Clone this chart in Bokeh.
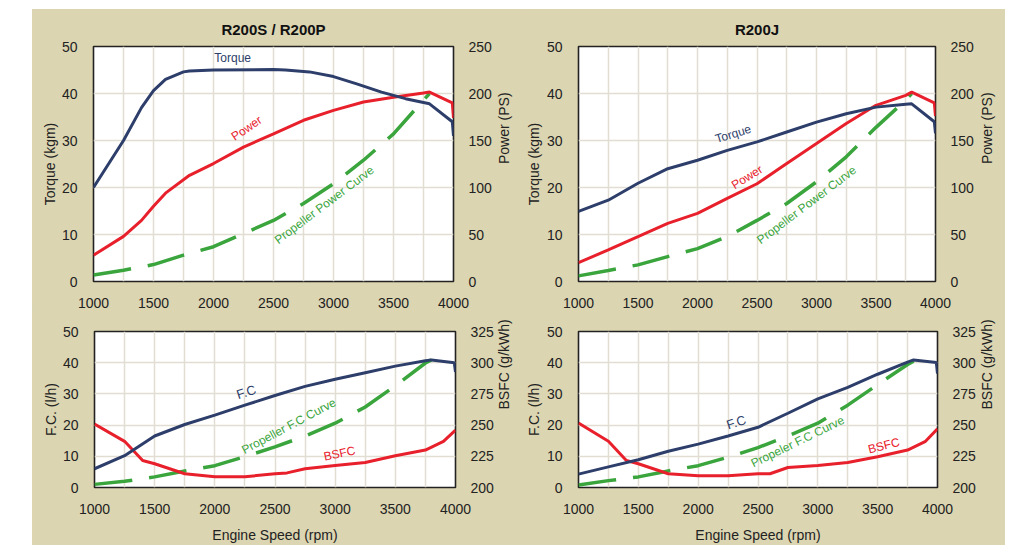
from bokeh.plotting import figure
from bokeh.models import Range1d, LinearAxis, FixedTicker, Spacer, Title
from bokeh.layouts import row, column
from bokeh.embed import file_html
from bokeh.resources import INLINE
from bokeh.core.properties import value
import math

# ---------------- data ----------------
rpm_ticks = [1000, 1500, 2000, 2500, 3000, 3500, 4000]
rpm_minor = [1250, 1750, 2250, 2750, 3250, 3750]

# R200S / R200P  (top-left)
s_rpm = [1000, 1250, 1400, 1500, 1600, 1750, 1800, 2000, 2500, 2600, 2800, 3000, 3200, 3400, 3600, 3800, 3990, 4000]
s_torque = [20.0, 30.0, 37.0, 40.6, 43.0, 44.6, 44.8, 45.0, 45.1, 45.0, 44.6, 43.6, 42.0, 40.3, 38.9, 37.8, 34.0, 31.0]
s_pw_rpm = [1000, 1250, 1400, 1500, 1600, 1800, 2000, 2250, 2500, 2750, 3000, 3250, 3500, 3750, 3800, 3990, 4000]
s_power = [28, 48, 65, 80, 94, 113, 125.5, 143, 157, 171.5, 182, 191, 196, 200.5, 201.5, 190, 174]
prop_rpm = [1000, 1250, 1500, 1750, 2000, 2250, 2500, 2750, 3000, 3250, 3500, 3750, 3800]
s_prop_power = [7, 12, 18, 28, 37, 51, 65, 83, 104, 129, 157, 193, 200]

# R200J (top-right)
j_rpm = [1000, 1250, 1500, 1750, 2000, 2250, 2500, 2750, 3000, 3250, 3500, 3750, 3800, 3990, 4000]
j_torque = [14.9, 17.3, 20.9, 24.0, 25.8, 27.9, 29.7, 31.8, 33.9, 35.7, 37.1, 37.7, 37.8, 34.0, 31.5]
j_power = [20, 33.6, 47.7, 61.9, 72.5, 88.4, 104, 125.5, 146.7, 168, 187.4, 198, 201.5, 190, 176]
j_prop_power = [6, 11.7, 17.7, 26.5, 35, 47.7, 65, 83, 106, 132.6, 164, 193, 200]

# Fuel consumption, R200S / R200P (bottom-left)
fc_rpm = [1000, 1250, 1500, 1750, 2000, 2250, 2500, 2750, 3000, 3250, 3500, 3750, 3800, 3990, 4000]
s_fc = [6.0, 10.2, 16.5, 20.2, 23.2, 26.4, 29.5, 32.4, 34.7, 36.8, 38.9, 40.6, 40.9, 40.0, 37.0]
bsfc_rpm = [1000, 1250, 1400, 1500, 1750, 2000, 2250, 2500, 2600, 2750, 3000, 3250, 3500, 3750, 3900, 4000]
s_bsfc = [250.8, 237, 221.6, 219, 211, 208.6, 208.6, 211, 211.7, 215, 217.7, 220, 225.5, 230, 237, 246]
s_prop_fc = [1.0, 2.0, 3.4, 5.3, 7.0, 9.9, 13.0, 16.5, 20.6, 25.8, 32.6, 39.9, 40.9]

# Fuel consumption, R200J (bottom-right)
j_fc = [4.3, 6.6, 8.9, 11.6, 13.9, 16.5, 19.3, 23.8, 28.4, 32.1, 36.3, 40.2, 40.9, 40.1, 36.5]
j_bsfc = [251.6, 237, 221.6, 219, 211, 209.4, 209.4, 211, 211, 216, 217.7, 220, 224.7, 230, 237, 247]
j_prop_fc = [0.8, 2.2, 3.4, 5.3, 7.0, 9.7, 12.8, 16.5, 20.6, 26.4, 33.0, 39.4, 40.5]

# in-plot labels: text, x (rpm), y (left-axis units), angle (deg)
tl_labels = [("Torque", 2160, 47.5, 0), ("Power", 2276, 32.6, 34), ("Propeller Power Curve", 2923, 16.3, 37)]
tr_labels = [("Torque", 2300, 31.4, 17), ("Power", 2417, 22.2, 32), ("Propeller Power Curve", 2917, 16.3, 37)]
bl_labels = [("F.C", 2261, 30.6, 18), ("Propeller F.C Curve", 2615, 19.7, 28), ("BSFC", 3036, 10.9, 12)]
br_labels = [("F.C", 2318, 20.9, 18), ("Propeler F.C Curve", 2831, 14.7, 26), ("BSFC", 3552, 13.4, 14)]

# ---------------- style ----------------
BEIGE = "#dcd5b1"
NAVY = "#2d3e6b"
RED = "#e8202b"
GREEN = "#3aa53d"
GRID = "#e2ddd3"
FONT = "Liberation Sans"


def make_fig(width, height, left, right, top, bottom, title, lticks, lrange, rname, rrange, rticks,
             llabel, rlabel, xlabel, lab_stand, rlab_stand):
    p = figure(width=width, height=height, output_backend="svg", toolbar_location=None,
               x_range=Range1d(1000, 4000), y_range=Range1d(*lrange),
               min_border_left=left, min_border_right=right, min_border_top=top, min_border_bottom=bottom,
               background_fill_color="white", border_fill_color=BEIGE)
    p.outline_line_color = "#222222"
    p.outline_line_width = 1.6
    p.extra_y_ranges = {rname: Range1d(*rrange)}
    if title:
        p.add_layout(Title(text=title, align="center", text_font=FONT, text_font_size="15px",
                           text_font_style="bold", text_color="#111111", standoff=18), "above")
    p.xaxis.ticker = FixedTicker(ticks=rpm_ticks, minor_ticks=rpm_minor)
    p.yaxis.ticker = FixedTicker(ticks=lticks)
    p.xgrid.grid_line_color = GRID
    p.xgrid.grid_line_width = 1.5
    p.xgrid.minor_grid_line_color = GRID
    p.xgrid.minor_grid_line_width = 1.5
    p.ygrid.grid_line_color = GRID
    p.ygrid.grid_line_width = 1.5
    rax = LinearAxis(y_range_name=rname, ticker=FixedTicker(ticks=rticks))
    p.add_layout(rax, "right")
    for ax in [p.xaxis[0], p.yaxis[0], rax]:
        ax.axis_line_color = None
        ax.major_tick_line_color = None
        ax.minor_tick_line_color = None
        ax.major_label_text_font = FONT
        ax.major_label_text_font_size = "14px"
        ax.major_label_text_color = "#222222"
        ax.axis_label_text_font = FONT
        ax.axis_label_text_font_size = "14px"
        ax.axis_label_text_font_style = "normal"
        ax.axis_label_text_color = "#222222"
    p.xaxis.major_label_standoff = 10
    p.yaxis.major_label_standoff = 10
    rax.major_label_standoff = 9
    p.yaxis.axis_label = llabel
    p.yaxis.axis_label_standoff = lab_stand
    rax.axis_label = rlabel
    rax.axis_label_standoff = rlab_stand
    rax.axis_label_orientation = math.pi / 2
    if xlabel:
        p.xaxis.axis_label = xlabel
        p.xaxis.axis_label_standoff = 10
    return p


def add_labels(p, labels, colors):
    for (txt, x, y, ang), c in zip(labels, colors):
        fs = "12px" if len(txt) > 3 else "13px"
        p.text(x=[x], y=[y], text=[txt], angle=[math.radians(ang)], text_color=c,
               text_font=value(FONT), text_font_size=fs, text_align="center", text_baseline="middle")


def top_fig(width, left, right, title, rpm, torque, pw_rpm, power, prop, labels, lab_stand, rlab_stand):
    p = make_fig(width, 301, left, right, 37, 28, title, [0, 10, 20, 30, 40, 50], (0, 50),
                 "ps", (0, 250), [0, 50, 100, 150, 200, 250], "Torque (kgm)", "Power (PS)", None,
                 lab_stand, rlab_stand)
    p.line(prop_rpm, prop, y_range_name="ps", line_color=GREEN, line_width=3.5, line_dash="38 17")
    p.line(pw_rpm, power, y_range_name="ps", line_color=RED, line_width=3)
    p.line(rpm, torque, line_color=NAVY, line_width=3)
    add_labels(p, labels, [NAVY, RED, GREEN])
    return p


def bottom_fig(width, left, right, fc, bsfc, prop, labels, lab_stand, rlab_stand):
    p = make_fig(width, 235, left, right, 21, 54, None, [0, 10, 20, 30, 40, 50], (0, 50),
                 "bsfc", (200, 325), [200, 225, 250, 275, 300, 325], "F.C. (l/h)", "BSFC (g/kWh)",
                 "Engine Speed (rpm)", lab_stand, rlab_stand)
    p.line(prop_rpm, prop, line_color=GREEN, line_width=3.5, line_dash="38 17")
    p.line(bsfc_rpm, bsfc, y_range_name="bsfc", line_color=RED, line_width=3)
    p.line(fc_rpm, fc, line_color=NAVY, line_width=3)
    add_labels(p, labels, [NAVY, GREEN, RED])
    return p


tl = top_fig(490, 61, 67, "R200S / R200P", s_rpm, s_torque, s_pw_rpm, s_power, s_prop_power, tl_labels, 1, 9)
tr = top_fig(483, 55, 68, "R200J", j_rpm, j_torque, j_rpm, j_power, j_prop_power, tr_labels, 2, 10)
bl = bottom_fig(490, 62, 64, s_fc, s_bsfc, s_prop_fc, bl_labels, 1, 7)
br = bottom_fig(483, 55, 66, j_fc, j_bsfc, j_prop_fc, br_labels, 2, 8)

panel = column(row(tl, tr), row(bl, br), styles={"background-color": BEIGE})
layout = column(Spacer(width=1005, height=9), row(Spacer(width=32, height=536), panel))

open("out.html", "w").write(file_html(layout, INLINE))
